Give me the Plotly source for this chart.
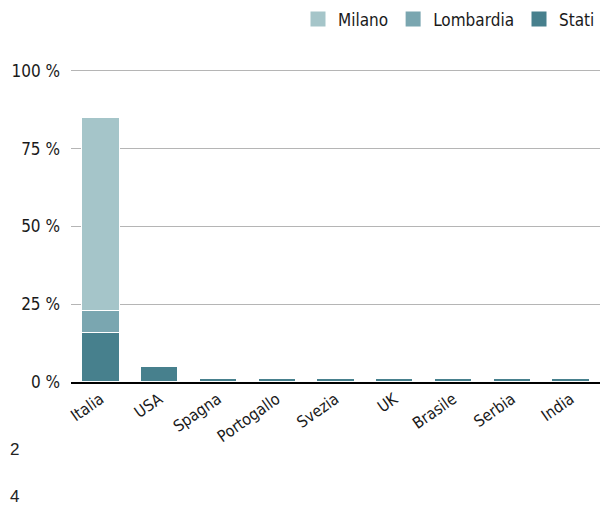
import plotly.graph_objects as go

paesi = ["Italia", "USA", "Spagna", "Portogallo", "Svezia", "UK", "Brasile", "Serbia", "India"]
stati = [16, 5, 1, 1, 1, 1, 1, 1, 1]
lombardia = [7, 0, 0, 0, 0, 0, 0, 0, 0]
milano = [62, 0, 0, 0, 0, 0, 0, 0, 0]
y_ticks = [0, 25, 50, 75, 100]
y_labels = ["0 %", "25 %", "50 %", "75 %", "100 %"]

FONT = "Liberation Sans Narrow, DejaVu Sans Condensed, sans-serif"
serie = [
    ("Stati", stati, "#47808d"),
    ("Lombardia", lombardia, "#7aa6b0"),
    ("Milano", milano, "#a5c5c9"),
]

fig = go.Figure()
for nome, valori, colore in serie:
    fig.add_trace(go.Bar(
        x=paesi, y=valori, name=nome, showlegend=False,
        marker=dict(color=colore, line=dict(color="white", width=1.2)),
        width=0.64,
    ))

# legend entries with larger square swatches
for nome, _, colore in serie:
    fig.add_trace(go.Scatter(
        x=[None], y=[None], mode="markers", name=nome,
        marker=dict(symbol="square", size=15, color=colore),
    ))

fig.update_layout(
    width=602, height=506,
    margin=dict(l=71, r=2, t=68, b=124),
    barmode="stack",
    plot_bgcolor="white", paper_bgcolor="white",
    font=dict(family=FONT, size=16, color="#1a1a1a"),
    showlegend=True,
    legend=dict(
        orientation="h", traceorder="reversed",
        x=1.0, xanchor="right", y=1.155, yanchor="middle",
        font=dict(size=17), itemwidth=30,
    ),
    xaxis=dict(
        showgrid=False, tickangle=-35, tickfont=dict(size=16),
        showline=True, linecolor="black", linewidth=1.5,
        range=[-0.5, 8.5],
    ),
    yaxis=dict(
        range=[0, 100.6], tickvals=y_ticks, ticktext=y_labels,
        showgrid=True, gridcolor="#b5b5b5", gridwidth=1,
        zeroline=False, ticks="", ticklabelstandoff=10,
        tickfont=dict(size=17),
    ),
)

for testo, ypix in [("2", 450), ("4", 497)]:
    fig.add_annotation(
        text=testo, xref="paper", yref="paper",
        x=-63 / 529, xanchor="left",
        y=(506 - 124 - ypix) / 314, yanchor="middle",
        showarrow=False, font=dict(family="Liberation Sans, Arial", size=17, color="#222"),
    )

fig.write_html("out.html")
